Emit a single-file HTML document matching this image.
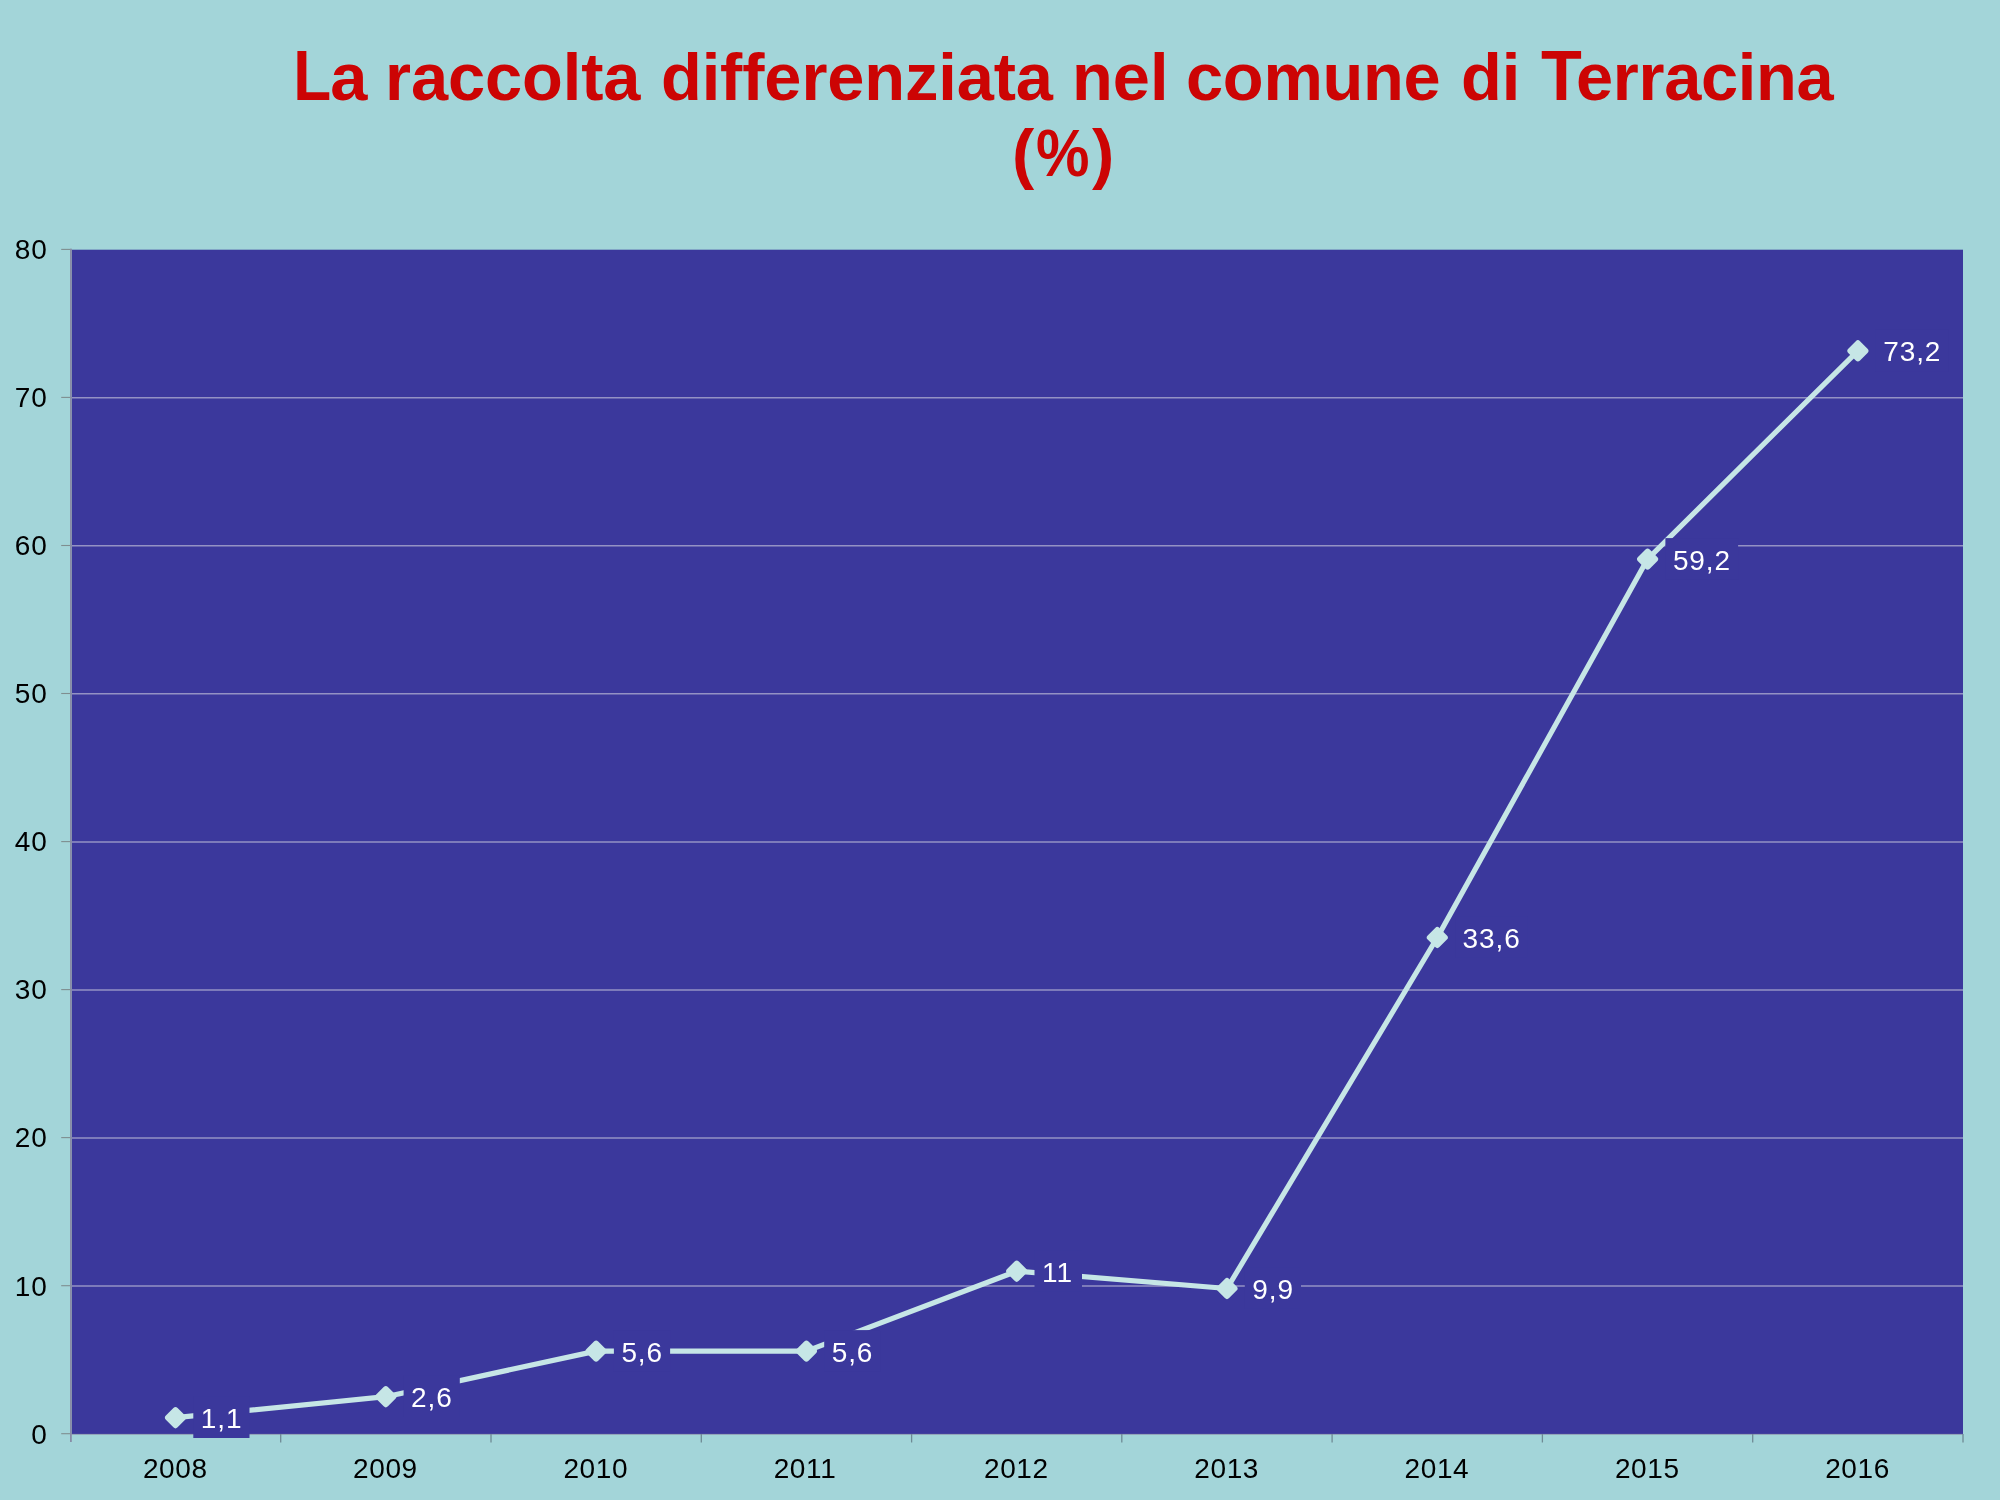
<!DOCTYPE html>
<html><head><meta charset="utf-8"><title>La raccolta differenziata nel comune di Terracina</title>
<style>
html,body{margin:0;padding:0;}
body{width:2000px;height:1500px;background:#a3d5d9;overflow:hidden;position:relative;font-family:"Liberation Sans",sans-serif;}
.t{will-change:transform;position:absolute;color:#cc0404;font-weight:bold;font-size:66.8px;line-height:77px;white-space:nowrap;}
.cap{display:inline-block;transform:scaleY(1.045);transform-origin:50% 79.2%;}
svg{position:absolute;left:0;top:0;will-change:transform;}
svg text{font-family:"Liberation Sans",sans-serif;font-size:28px;letter-spacing:0.9px;}
</style></head><body>

<div class="t" style="left:293px;top:39px;letter-spacing:0px"><span class="cap" style="margin-right:-3.6px;transform:scale(0.93,1.045);transform-origin:8% 79.2%">L</span>a</div>
<div class="t" style="left:385.4px;top:39px;letter-spacing:-0.11px">raccolta</div>
<div class="t" style="left:661px;top:39px;letter-spacing:-0.12px">differenziata</div>
<div class="t" style="left:1071.6px;top:39px;letter-spacing:0px">nel</div>
<div class="t" style="left:1186.4px;top:39px;letter-spacing:-0.28px">comune</div>
<div class="t" style="left:1461.4px;top:39px;letter-spacing:0px">di</div>
<div class="t" style="left:1541px;top:39px;letter-spacing:-0.3px"><span class="cap" style="margin-right:-5.6px">T</span>erracina</div>
<div class="t" style="left:1011.8px;top:115px;letter-spacing:-0.8px">(<span style="display:inline-block;transform:scaleX(0.9)">%</span>)</div>
<svg width="2000" height="1500" viewBox="0 0 2000 1500">
<rect x="71.7" y="249.7" width="1891.3" height="1184.3" fill="#3b389c"/>
<line x1="61.2" y1="1433.7" x2="71.7" y2="1433.7" stroke="#7f8e90" stroke-width="1.1"/>
<text x="31.2" y="1443.5" fill="#000">0</text>
<line x1="71.7" y1="1286.0" x2="1963" y2="1286.0" stroke="#9492c4" stroke-width="1.45"/>
<line x1="61.2" y1="1285.7" x2="71.7" y2="1285.7" stroke="#7f8e90" stroke-width="1.1"/>
<text x="14.8" y="1295.5" fill="#000">10</text>
<line x1="71.7" y1="1137.9" x2="1963" y2="1137.9" stroke="#9492c4" stroke-width="1.45"/>
<line x1="61.2" y1="1137.6" x2="71.7" y2="1137.6" stroke="#7f8e90" stroke-width="1.1"/>
<text x="14.8" y="1147.4" fill="#000">20</text>
<line x1="71.7" y1="989.9" x2="1963" y2="989.9" stroke="#9492c4" stroke-width="1.45"/>
<line x1="61.2" y1="989.6" x2="71.7" y2="989.6" stroke="#7f8e90" stroke-width="1.1"/>
<text x="14.8" y="999.4" fill="#000">30</text>
<line x1="71.7" y1="841.9" x2="1963" y2="841.9" stroke="#9492c4" stroke-width="1.45"/>
<line x1="61.2" y1="841.6" x2="71.7" y2="841.6" stroke="#7f8e90" stroke-width="1.1"/>
<text x="14.8" y="851.4" fill="#000">40</text>
<line x1="71.7" y1="693.8" x2="1963" y2="693.8" stroke="#9492c4" stroke-width="1.45"/>
<line x1="61.2" y1="693.5" x2="71.7" y2="693.5" stroke="#7f8e90" stroke-width="1.1"/>
<text x="14.8" y="703.3" fill="#000">50</text>
<line x1="71.7" y1="545.8" x2="1963" y2="545.8" stroke="#9492c4" stroke-width="1.45"/>
<line x1="61.2" y1="545.5" x2="71.7" y2="545.5" stroke="#7f8e90" stroke-width="1.1"/>
<text x="14.8" y="555.3" fill="#000">60</text>
<line x1="71.7" y1="397.7" x2="1963" y2="397.7" stroke="#9492c4" stroke-width="1.45"/>
<line x1="61.2" y1="397.4" x2="71.7" y2="397.4" stroke="#7f8e90" stroke-width="1.1"/>
<text x="14.8" y="407.2" fill="#000">70</text>
<line x1="61.2" y1="249.4" x2="71.7" y2="249.4" stroke="#7f8e90" stroke-width="1.1"/>
<text x="14.8" y="259.2" fill="#000">80</text>
<line x1="70.9" y1="248.7" x2="70.9" y2="1442" stroke="#888ca6" stroke-width="1.8"/>
<line x1="71.7" y1="1434.4" x2="1963" y2="1434.4" stroke="#8f9ab0" stroke-width="0.9"/>
<line x1="280.7" y1="1434" x2="280.7" y2="1442.5" stroke="#6f8a94" stroke-width="1.3"/>
<line x1="491.0" y1="1434" x2="491.0" y2="1442.5" stroke="#6f8a94" stroke-width="1.3"/>
<line x1="701.3" y1="1434" x2="701.3" y2="1442.5" stroke="#6f8a94" stroke-width="1.3"/>
<line x1="911.6" y1="1434" x2="911.6" y2="1442.5" stroke="#6f8a94" stroke-width="1.3"/>
<line x1="1121.8" y1="1434" x2="1121.8" y2="1442.5" stroke="#6f8a94" stroke-width="1.3"/>
<line x1="1332.1" y1="1434" x2="1332.1" y2="1442.5" stroke="#6f8a94" stroke-width="1.3"/>
<line x1="1542.4" y1="1434" x2="1542.4" y2="1442.5" stroke="#6f8a94" stroke-width="1.3"/>
<line x1="1752.7" y1="1434" x2="1752.7" y2="1442.5" stroke="#6f8a94" stroke-width="1.3"/>
<line x1="1963.0" y1="1434" x2="1963.0" y2="1442.5" stroke="#6f8a94" stroke-width="1.3"/>
<text x="142.9" y="1477.9" fill="#000" style="letter-spacing:0.6px">2008</text>
<text x="353.1" y="1477.9" fill="#000" style="letter-spacing:0.6px">2009</text>
<text x="563.4" y="1477.9" fill="#000" style="letter-spacing:0.6px">2010</text>
<text x="773.7" y="1477.9" fill="#000" style="letter-spacing:0.6px">2011</text>
<text x="984.0" y="1477.9" fill="#000" style="letter-spacing:0.6px">2012</text>
<text x="1194.3" y="1477.9" fill="#000" style="letter-spacing:0.6px">2013</text>
<text x="1404.6" y="1477.9" fill="#000" style="letter-spacing:0.6px">2014</text>
<text x="1614.9" y="1477.9" fill="#000" style="letter-spacing:0.6px">2015</text>
<text x="1825.2" y="1477.9" fill="#000" style="letter-spacing:0.6px">2016</text>
<polyline points="175.5,1417.7 385.8,1396.7 596.1,1351.1 806.4,1351.1 1016.7,1271.2 1227.0,1288.5 1437.3,937.5 1647.6,559.1 1857.9,350.8" fill="none" stroke="#c6e6e6" stroke-width="5.2" stroke-linejoin="round"/>
<polygon points="168.0,1417.7 175.5,1410.2 183.0,1417.7 175.5,1425.2" fill="#c6e6e6" stroke="#c6e6e6" stroke-width="6" stroke-linejoin="round"/>
<polygon points="378.3,1396.7 385.8,1389.2 393.3,1396.7 385.8,1404.2" fill="#c6e6e6" stroke="#c6e6e6" stroke-width="6" stroke-linejoin="round"/>
<polygon points="588.6,1351.1 596.1,1343.6 603.6,1351.1 596.1,1358.6" fill="#c6e6e6" stroke="#c6e6e6" stroke-width="6" stroke-linejoin="round"/>
<polygon points="798.9,1351.1 806.4,1343.6 813.9,1351.1 806.4,1358.6" fill="#c6e6e6" stroke="#c6e6e6" stroke-width="6" stroke-linejoin="round"/>
<polygon points="1009.2,1271.2 1016.7,1263.7 1024.2,1271.2 1016.7,1278.7" fill="#c6e6e6" stroke="#c6e6e6" stroke-width="6" stroke-linejoin="round"/>
<polygon points="1219.5,1288.5 1227.0,1281.0 1234.5,1288.5 1227.0,1296.0" fill="#c6e6e6" stroke="#c6e6e6" stroke-width="6" stroke-linejoin="round"/>
<polygon points="1429.8,937.5 1437.3,930.0 1444.8,937.5 1437.3,945.0" fill="#c6e6e6" stroke="#c6e6e6" stroke-width="6" stroke-linejoin="round"/>
<polygon points="1640.1,559.1 1647.6,551.6 1655.1,559.1 1647.6,566.6" fill="#c6e6e6" stroke="#c6e6e6" stroke-width="6" stroke-linejoin="round"/>
<polygon points="1850.4,350.8 1857.9,343.3 1865.4,350.8 1857.9,358.3" fill="#c6e6e6" stroke="#c6e6e6" stroke-width="6" stroke-linejoin="round"/>
<rect x="193.3" y="1396.7" width="56.2" height="41.3" fill="#3b389c"/>
<text x="200.8" y="1428.1" fill="#fff">1,1</text>
<rect x="403.6" y="1375.7" width="56.2" height="41.3" fill="#3b389c"/>
<text x="411.1" y="1407.1" fill="#fff">2,6</text>
<rect x="613.9" y="1330.1" width="56.2" height="41.3" fill="#3b389c"/>
<text x="621.4" y="1361.5" fill="#fff">5,6</text>
<rect x="824.2" y="1330.1" width="56.2" height="41.3" fill="#3b389c"/>
<text x="831.7" y="1361.5" fill="#fff">5,6</text>
<rect x="1034.5" y="1250.2" width="47.5" height="41.3" fill="#3b389c"/>
<text x="1042.0" y="1281.6" fill="#fff">11</text>
<rect x="1244.8" y="1267.5" width="56.2" height="41.3" fill="#3b389c"/>
<text x="1252.3" y="1298.9" fill="#fff">9,9</text>
<rect x="1455.1" y="916.5" width="72.7" height="41.3" fill="#3b389c"/>
<text x="1462.6" y="947.9" fill="#fff">33,6</text>
<rect x="1665.4" y="538.1" width="72.7" height="41.3" fill="#3b389c"/>
<text x="1672.9" y="569.5" fill="#fff">59,2</text>
<rect x="1875.7" y="329.8" width="72.7" height="41.3" fill="#3b389c"/>
<text x="1883.2" y="361.2" fill="#fff">73,2</text>
</svg></body></html>
